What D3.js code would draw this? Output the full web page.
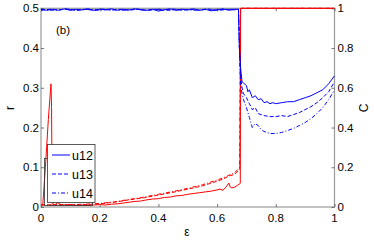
<!DOCTYPE html>
<html>
<head>
  <meta charset="UTF-8">
  <style>
    body { margin: 0; background: #fff; }
    text { font-family: "Liberation Sans", Arial, sans-serif; }
  </style>
</head>
<body>
<svg></svg>
<script src="https://d3js.org/d3.v7.min.js"></script>
<script>

let width = 374, height = 242;
let margin = {left: 41, right: 39.5, top: 8.3, bottom: 35};

// blue: C (right axis), [eps, C]
let u12C = [[0,0.995],[0.02,0.99],[0.04,0.995],[0.06,0.99],[0.08,0.997],[0.1,0.99],[0.12,0.995],[0.14,0.992],[0.16,0.997],[0.18,0.99],[0.2,0.995],[0.22,0.993],[0.24,0.997],[0.26,0.99],[0.28,0.995],[0.3,0.992],[0.32,0.997],[0.34,0.993],[0.36,0.99],[0.38,0.995],[0.4,0.986],[0.42,0.993],[0.44,0.997],[0.46,0.99],[0.48,0.995],[0.5,0.992],[0.52,0.997],[0.54,0.99],[0.56,0.995],[0.58,0.987],[0.6,0.993],[0.62,0.997],[0.64,0.99],[0.66,0.995],[0.673,0.995],[0.676,0.8],[0.68,0.7],[0.685,0.63],[0.69,0.625],[0.7,0.61],[0.705,0.58],[0.71,0.59],[0.72,0.55],[0.73,0.56],[0.74,0.54],[0.75,0.545],[0.76,0.525],[0.77,0.53],[0.78,0.52],[0.79,0.525],[0.8,0.52],[0.82,0.525],[0.84,0.53],[0.86,0.53],[0.88,0.54],[0.9,0.55],[0.92,0.56],[0.94,0.575],[0.96,0.59],[0.98,0.62],[1,0.66]];
let u13C = [[0,0.99],[0.03,0.995],[0.06,0.992],[0.09,0.997],[0.12,0.99],[0.15,0.995],[0.18,0.99],[0.21,0.996],[0.24,0.99],[0.27,0.995],[0.3,0.99],[0.33,0.996],[0.36,0.99],[0.39,0.995],[0.42,0.99],[0.45,0.996],[0.48,0.99],[0.51,0.995],[0.54,0.99],[0.57,0.996],[0.6,0.99],[0.63,0.995],[0.66,0.992],[0.673,0.995],[0.676,0.8],[0.68,0.66],[0.685,0.6],[0.69,0.57],[0.7,0.55],[0.71,0.52],[0.72,0.49],[0.73,0.5],[0.74,0.47],[0.76,0.46],[0.78,0.455],[0.8,0.455],[0.82,0.46],[0.84,0.455],[0.86,0.465],[0.88,0.475],[0.9,0.49],[0.92,0.505],[0.94,0.525],[0.96,0.55],[0.98,0.58],[1,0.63]];
let u14C = [[0,0.995],[0.04,0.99],[0.08,0.995],[0.12,0.99],[0.16,0.995],[0.2,0.99],[0.24,0.995],[0.28,0.99],[0.32,0.995],[0.36,0.99],[0.4,0.995],[0.44,0.99],[0.48,0.995],[0.52,0.99],[0.56,0.995],[0.6,0.99],[0.64,0.995],[0.673,0.995],[0.676,0.8],[0.68,0.62],[0.685,0.57],[0.69,0.54],[0.7,0.5],[0.71,0.45],[0.72,0.4],[0.73,0.42],[0.74,0.41],[0.75,0.39],[0.76,0.38],[0.78,0.37],[0.8,0.37],[0.82,0.375],[0.84,0.385],[0.86,0.395],[0.88,0.41],[0.9,0.425],[0.92,0.445],[0.94,0.47],[0.96,0.5],[0.98,0.54],[1,0.59]];

// red: r (left axis), [eps, r]
let u12r = [[0,0.005],[0.006,0.005],[0.015,0.1],[0.025,0.22],[0.03,0.27],[0.034,0.31],[0.036,0.25],[0.038,0.01],[0.045,0.006],[0.05,0.004],[0.055,0.015],[0.06,0.008],[0.07,0.006],[0.08,0.005],[0.1,0.006],[0.12,0.004],[0.14,0.005],[0.16,0.004],[0.18,0.005],[0.2,0.006],[0.22,0.005],[0.24,0.007],[0.26,0.008],[0.28,0.01],[0.3,0.012],[0.32,0.014],[0.34,0.015],[0.36,0.018],[0.38,0.02],[0.4,0.021],[0.42,0.024],[0.44,0.025],[0.46,0.028],[0.48,0.029],[0.5,0.032],[0.52,0.034],[0.54,0.036],[0.56,0.038],[0.58,0.04],[0.6,0.043],[0.61,0.045],[0.62,0.042],[0.63,0.05],[0.64,0.06],[0.645,0.05],[0.65,0.048],[0.66,0.05],[0.67,0.055],[0.677,0.058],[0.679,0.06],[0.68,0.5],[1,0.5]];
let u13r = [[0,0.005],[0.05,0.006],[0.1,0.005],[0.15,0.006],[0.2,0.008],[0.25,0.012],[0.3,0.018],[0.35,0.023],[0.4,0.03],[0.45,0.037],[0.5,0.045],[0.55,0.053],[0.6,0.065],[0.62,0.07],[0.64,0.078],[0.66,0.082],[0.677,0.095],[0.68,0.5],[1,0.5]];
let u14r = [[0,0.005],[0.05,0.005],[0.1,0.006],[0.15,0.007],[0.2,0.009],[0.25,0.013],[0.3,0.019],[0.35,0.025],[0.4,0.032],[0.45,0.039],[0.5,0.047],[0.55,0.056],[0.6,0.068],[0.62,0.073],[0.64,0.08],[0.66,0.086],[0.677,0.1],[0.68,0.5],[1,0.5]];

let legendNames = ["u12", "u13", "u14"];
let dashes = [null, "4,2", "4,2,1,2"];

let xTicks = [0, 0.2, 0.4, 0.6, 0.8, 1];
let rTicks = [0, 0.1, 0.2, 0.3, 0.4, 0.5];
let cTicks = [0, 0.2, 0.4, 0.6, 0.8, 1];

let svg = d3.select("svg")
    .attr("width", width)
    .attr("height", height);

let x = d3.scaleLinear().domain([0, 1]).range([margin.left, width - margin.right]);
let yR = d3.scaleLinear().domain([0, 0.5]).range([height - margin.bottom, margin.top]);
let yC = d3.scaleLinear().domain([0, 1]).range([height - margin.bottom, margin.top]);

let fmt = d => d === 0 ? "0" : d === 1 ? "1" : d3.format(".1f")(d);
let axisColor = "#999";

// frame first so the curves sit on top of it
svg.append("rect")
    .attr("x", x(0)).attr("y", yR(0.5))
    .attr("width", x(1) - x(0)).attr("height", yR(0) - yR(0.5))
    .attr("fill", "none").attr("stroke", axisColor).attr("stroke-width", 1.2);

// minor ticks
function minor(axis, scale, vals, len) {
    return axis(scale).tickValues(vals).tickSize(len).tickFormat("");
}
let xMinor = d3.range(0, 1.0001, 0.04);
let rMinor = d3.range(0, 0.5001, 0.02);
let cMinor = d3.range(0, 1.0001, 0.04);

let gx = svg.append("g").attr("transform", `translate(0,${yR(0)})`);
gx.call(minor(d3.axisTop, x, xMinor, 1.5));
gx.call(d3.axisTop(x).tickValues(xTicks).tickSize(3).tickFormat(""));
let gxt = svg.append("g").attr("transform", `translate(0,${yR(0.5)})`);
gxt.call(minor(d3.axisBottom, x, xMinor, 1.5));
gxt.call(d3.axisBottom(x).tickValues(xTicks).tickSize(3).tickFormat(""));
let gl = svg.append("g").attr("transform", `translate(${x(0)},0)`);
gl.call(minor(d3.axisRight, yR, rMinor, 1.5));
gl.call(d3.axisRight(yR).tickValues(rTicks).tickSize(3).tickFormat(""));
let gr = svg.append("g").attr("transform", `translate(${x(1)},0)`);
gr.call(minor(d3.axisLeft, yC, cMinor, 1.5));
gr.call(d3.axisLeft(yC).tickValues(cTicks).tickSize(3).tickFormat(""));
svg.selectAll(".domain").remove();
svg.selectAll(".tick line").attr("stroke", "#555").attr("stroke-width", 0.8);

// tick labels
svg.append("g").selectAll("text").data(xTicks).join("text")
    .attr("x", d => x(d)).attr("y", yR(0) + 15)
    .attr("text-anchor", "middle").attr("font-size", 11.5).text(fmt);
svg.append("g").selectAll("text").data(rTicks).join("text")
    .attr("x", x(0) - 2).attr("y", d => yR(d) + 4)
    .attr("text-anchor", "end").attr("font-size", 11.5).text(fmt);
svg.append("g").selectAll("text").data(cTicks).join("text")
    .attr("x", x(1) + 3).attr("y", d => yC(d) + 4)
    .attr("text-anchor", "start").attr("font-size", 11.5).text(fmt);

// axis titles
svg.append("text").attr("x", 187).attr("y", 236).attr("text-anchor", "middle")
    .attr("font-size", 12).text("ε");
svg.append("text").attr("transform", "translate(14,108) rotate(-90)")
    .attr("text-anchor", "middle").attr("font-size", 12).text("r");
svg.append("text").attr("transform", "translate(368,108) rotate(-90)")
    .attr("text-anchor", "middle").attr("font-size", 12).text("C");

// lines
let lineR = d3.line().x(d => x(d[0])).y(d => yR(d[1]));
let lineC = d3.line().x(d => x(d[0])).y(d => yC(d[1]));

[u12r, u13r, u14r].forEach((s, i) => {
    svg.append("path").datum(s).attr("d", lineR)
        .attr("fill", "none").attr("stroke", "red").attr("stroke-width", 1)
        .attr("stroke-dasharray", dashes[i]);
});
[u12C, u13C, u14C].forEach((s, i) => {
    svg.append("path").datum(s).attr("d", lineC)
        .attr("fill", "none").attr("stroke", "blue").attr("stroke-width", 1)
        .attr("stroke-dasharray", dashes[i]);
});

svg.append("text").attr("x", 56).attr("y", 34).attr("font-size", 11.5).text("(b)");

// legend (with a shadow box behind it)
svg.append("rect").attr("x", 44.5).attr("y", 158.5).attr("width", 48).attr("height", 47)
    .attr("fill", "none").attr("stroke", "#333").attr("stroke-width", 0.8);
let lg = svg.append("g");
lg.append("rect").attr("x", 47.5).attr("y", 144.5).attr("width", 47.5).attr("height", 58)
    .attr("fill", "white").attr("stroke", "#333").attr("stroke-width", 0.8);
legendNames.forEach((n, i) => {
    let yy = 155 + i * 19;
    lg.append("line").attr("x1", 52).attr("x2", 70).attr("y1", yy).attr("y2", yy)
        .attr("stroke", "blue").attr("stroke-width", 1).attr("stroke-dasharray", dashes[i]);
    lg.append("text").attr("x", 72).attr("y", yy + 4.5).attr("font-size", 12.5).text(n);
});

</script>
</body>
</html>
